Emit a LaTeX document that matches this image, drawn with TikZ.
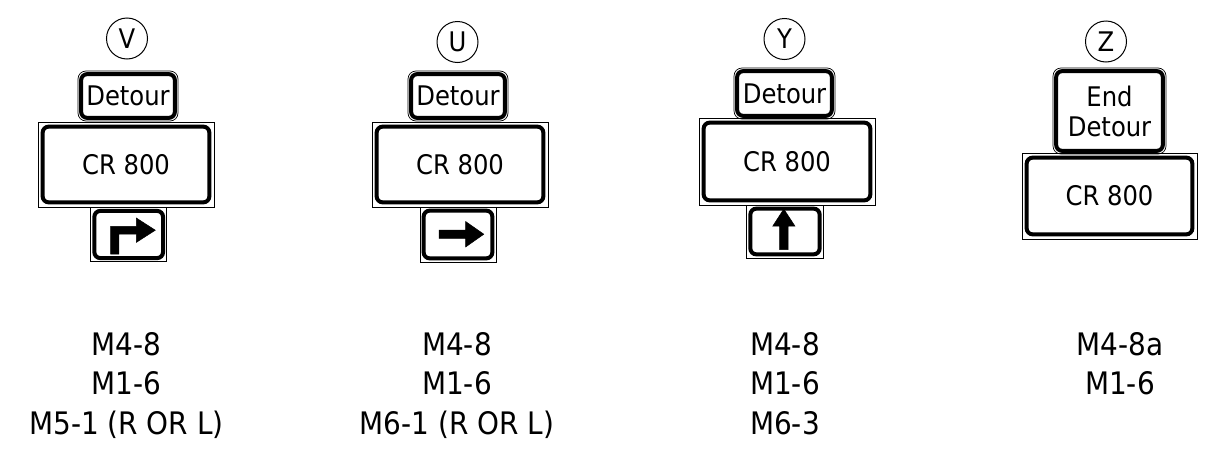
\documentclass[tikz,border=0pt]{standalone}
\usepackage{fontspec}
\IfFontExistsTF{DejaVu Sans Condensed}{\setmainfont{DejaVu Sans Condensed}}{\setmainfont{DejaVu Sans}}
\usetikzlibrary{calc}
\tikzset{
  signbase/.style={draw, line width=0.7pt, inner sep=0pt, align=center,
    font=\fontsize{27}{30}\selectfont},
  roundbase/.style={signbase, rounded corners=8pt},
  thickbox/.style={draw, line width=4pt, rounded corners=6pt},
  idcircle/.style={draw, circle, line width=1pt, minimum size=41pt, inner sep=0pt,
    font=\fontsize{27}{27}\selectfont},
  lbl/.style={anchor=base, font=\fontsize{31}{39}\selectfont, inner sep=0pt},
  arrowfill/.style={fill=black, draw=black, line width=0.5pt, line join=miter}
}
\newcommand{\signbox}[8]{% style, name, cx, cy, w, h, inset, text
  \node[#1, minimum width=#5pt, minimum height=#6pt] (#2) at (#3,#4) {#8};
  \draw[thickbox] ($(#2.north west)+(#7,#7)$) rectangle ($(#2.south east)+(-#7,-#7)$);
}
\begin{document}
\begin{tikzpicture}[x=1pt,y=-1pt]
\useasboundingbox (0,0) rectangle (1211,461);
% ---------- V ----------
\node[idcircle] (vid) at (127,38.5) {V};
\signbox{roundbase}{vdet}{128}{96}{100}{50}{3.5}{Detour}
\signbox{signbase}{vcr}{126}{164.5}{176}{85}{5}{CR 800}
\signbox{signbase}{varr}{128.7}{234.5}{76}{54.5}{4}{}
\fill[arrowfill] (110.5,254) -- (110.5,226.3) -- (136.3,226.3) -- (136.3,218) -- (155.3,230.2) -- (136.3,242.4) -- (136.3,234) -- (118.8,234) -- (118.8,254) -- cycle;
\node[lbl] (vl1) at (126.5,355) {M4-8};
\node[lbl] (vl2) at (126.5,394.5) {M1-6};
\node[lbl] (vl3) at (126.5,434) {M5-1 (R OR L)};
% ---------- U ----------
\node[idcircle] (uid) at (457.5,42) {U};
\signbox{roundbase}{udet}{458}{96}{100}{50}{3.5}{Detour}
\signbox{signbase}{ucr}{460}{164.5}{176}{85}{5}{CR 800}
\signbox{signbase}{uarr}{458}{234.5}{76}{55}{4}{}
\fill[arrowfill] (439,230) -- (465.6,230) -- (465.6,221.5) -- (483.8,234.2) -- (465.6,247) -- (465.6,238.4) -- (439,238.4) -- cycle;
\node[lbl] (ul1) at (457,355) {M4-8};
\node[lbl] (ul2) at (457,394.5) {M1-6};
\node[lbl] (ul3) at (457,434) {M6-1 (R OR L)};
% ---------- Y ----------
\node[idcircle] (yid) at (784.5,39) {Y};
\signbox{roundbase}{ydet}{784.5}{93.5}{101}{51}{3.5}{Detour}
\signbox{signbase}{ycr}{787}{161.5}{176}{87}{5}{CR 800}
\signbox{signbase}{yarr}{785}{231.5}{76.6}{53}{4}{}
\fill[arrowfill] (779.6,249.5) -- (779.6,226.2) -- (772.7,226.2) -- (783.8,209) -- (795,226.2) -- (788,226.2) -- (788,249.5) -- cycle;
\node[lbl] (yl1) at (785,355) {M4-8};
\node[lbl] (yl2) at (785,394.5) {M1-6};
\node[lbl] (yl3) at (785,434) {M6-3};
% ---------- Z ----------
\node[idcircle] (zid) at (1106,41.5) {Z};
\signbox{roundbase}{zdet}{1109.5}{111}{113}{86}{3.5}{End\\Detour}
\signbox{signbase}{zcr}{1109.5}{196}{175}{86}{5}{CR 800}
\node[lbl] (zl1) at (1120,355) {M4-8a};
\node[lbl] (zl2) at (1120,394.5) {M1-6};
\end{tikzpicture}
\end{document}
